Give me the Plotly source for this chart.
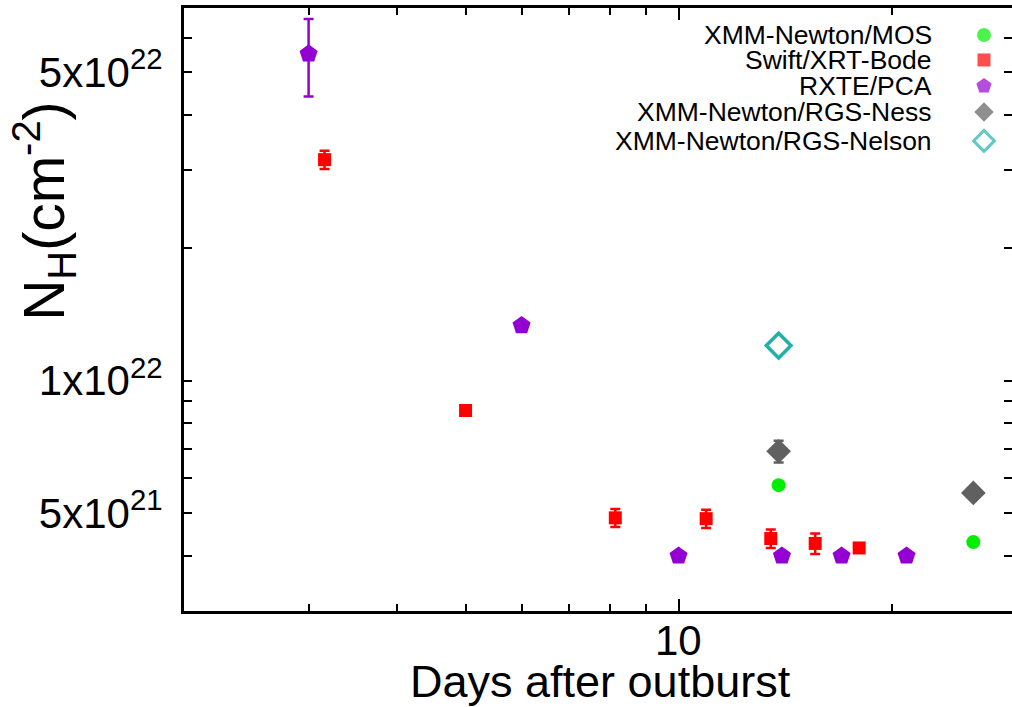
import math
import plotly.graph_objects as go

# ---------------- data ----------------
mos_x = [13.85, 26.1]
mos_y = [5.79e21, 4.30e21]

swift_x = [3.16, 5.0, 8.14, 10.94, 13.5, 15.6, 18.0]
swift_y = [3.17e22, 8.55e21, 4.88e21, 4.86e21, 4.38e21, 4.27e21, 4.17e21]
swift_err = [1.5e21, 1.8e20, 2.3e20, 2.3e20, 2.1e20, 2.3e20, 0.0]

rxte_x = [3.0, 6.0, 10.0, 14.0, 17.0, 21.0]
rxte_y = [5.51e22, 1.333e22, 4.0e21, 4.0e21, 4.0e21, 4.0e21]
rxte_err_plus = [1.1e22, 0, 0, 0, 0, 0]
rxte_err_minus = [1.1e22, 0, 0, 0, 0, 0]

ness_x = [13.85, 26.1]
ness_y = [6.91e21, 5.56e21]
ness_err = [3.9e20, 0.0]

nelson_x = [13.85]
nelson_y = [1.20e22]

legend_labels = ["XMM-Newton/MOS", "Swift/XRT-Bode", "RXTE/PCA",
                 "XMM-Newton/RGS-Ness", "XMM-Newton/RGS-Nelson"]

y_tickvals = [5e21, 1e22, 5e22]
y_ticktext = ["5x10<sup>21</sup>", "1x10<sup>22</sup>", "5x10<sup>22</sup>"]
y_minor = [4e21, 6e21, 7e21, 8e21, 9e21, 2e22, 3e22, 4e22, 6e22]
x_tickvals = [10]
x_ticktext = ["10"]
x_minor = [3, 4, 5, 6, 7, 8, 9, 20]

# ---------------- style ----------------
GREEN = "#00ee00"
RED = "#ff0000"
PURPLE = "#9400d3"
GRAY = "#606060"
TEAL = "#20b2aa"
FONT = "Liberation Sans, Arial, Helvetica, sans-serif"

W, H = 1012, 707
L, R, T, B = 184, 0, 8, 95.5

fig = go.Figure()

fig.add_trace(go.Scatter(
    x=rxte_x, y=rxte_y, mode="markers", name=legend_labels[2],
    marker=dict(symbol="pentagon", size=19, color=PURPLE),
    error_y=dict(type="data", array=rxte_err_plus, arrayminus=rxte_err_minus,
                 color=PURPLE, thickness=2.5, width=5, symmetric=False),
    showlegend=False))
fig.add_trace(go.Scatter(
    x=swift_x, y=swift_y, mode="markers", name=legend_labels[1],
    marker=dict(symbol="square", size=13, color=RED),
    error_y=dict(type="data", array=swift_err, color=RED, thickness=2.5, width=5),
    showlegend=False))
fig.add_trace(go.Scatter(
    x=mos_x, y=mos_y, mode="markers", name=legend_labels[0],
    marker=dict(symbol="circle", size=14, color=GREEN),
    showlegend=False))
fig.add_trace(go.Scatter(
    x=ness_x, y=ness_y, mode="markers", name=legend_labels[3],
    marker=dict(symbol="diamond", size=19, color=GRAY),
    error_y=dict(type="data", array=ness_err, color=GRAY, thickness=2.5, width=5),
    showlegend=False))
fig.add_trace(go.Scatter(
    x=nelson_x, y=nelson_y, mode="markers", name=legend_labels[4],
    marker=dict(symbol="diamond-open", size=19, color=TEAL, line=dict(width=3.5, color=TEAL)),
    showlegend=False))

# ---------- custom legend (text left, symbol right) ----------
pw = W - L - R
ph = H - T - B
row_px = [35, 60, 86, 112, 141]
text_right_px = 934
sym_px = 984
legend_syms = ["circle", "square", "pentagon", "diamond", "diamond-open"]
legend_cols = [GREEN, RED, PURPLE, GRAY, TEAL]
legend_sizes = [14, 13, 16, 15, 16]

def py(ypx):
    return (H - B - ypx) / ph

def px(xpx):
    return (xpx - L) / pw

fig.add_trace(go.Scatter(
    x=[px(sym_px)] * 5, y=[py(v) for v in row_px], xaxis="x2", yaxis="y2",
    mode="markers", showlegend=False, hoverinfo="skip",
    marker=dict(symbol=legend_syms, color=legend_cols, size=legend_sizes,
                line=dict(width=[0, 0, 0, 0, 3], color=legend_cols))))

annotations = []
for lab, rp in zip(legend_labels, row_px):
    annotations.append(dict(
        text=lab, x=px(text_right_px), y=py(rp), xref="paper", yref="paper",
        xanchor="right", yanchor="middle", showarrow=False,
        font=dict(family=FONT, size=26.5, color="black")))

# x tick label, placed under its tick (log axis: annotation x is log10 value)
for tv, tt in zip(x_tickvals, x_ticktext):
    annotations.append(dict(
        text=tt, x=math.log10(tv), y=py(641), xref="x", yref="paper",
        xanchor="center", yanchor="middle", showarrow=False,
        font=dict(family=FONT, size=42, color="black")))

# axis titles
annotations.append(dict(
    text="Days after outburst", x=px(600), y=py(682), xref="paper", yref="paper",
    xanchor="center", yanchor="middle", showarrow=False,
    font=dict(family=FONT, size=45, color="black")))
annotations.append(dict(
    text="N<sub>H</sub>(cm<sup>-2</sup>)", x=px(44), y=py(212), xref="paper", yref="paper",
    xanchor="center", yanchor="middle", showarrow=False, textangle=-90,
    font=dict(family=FONT, size=57, color="black")))

axis_common = dict(type="log", showgrid=False, zeroline=False)

fig.update_layout(
    width=W, height=H,
    margin=dict(l=L, r=R, t=T, b=B, pad=0),
    paper_bgcolor="white", plot_bgcolor="white",
    font=dict(family=FONT, color="black"),
    showlegend=False,
    annotations=annotations,
    xaxis=dict(
        range=[math.log10(2), math.log10(29.6)],
        tickmode="array", tickvals=x_tickvals, showticklabels=False,
        ticks="inside", ticklen=12, tickwidth=1.5, tickcolor="black",
        minor=dict(tickmode="array", tickvals=x_minor, ticks="inside",
                   ticklen=7, tickwidth=1.5, tickcolor="black", showgrid=False),
        showline=True, linecolor="black", linewidth=3, mirror="ticks",
        **axis_common,
    ),
    yaxis=dict(
        range=[math.log10(3e21), math.log10(7e22)],
        tickmode="array", tickvals=y_tickvals, ticktext=y_ticktext,
        ticks="inside", ticklen=8, tickwidth=1.5, tickcolor="black",
        minor=dict(tickmode="array", tickvals=y_minor, ticks="inside",
                   ticklen=8, tickwidth=1.5, tickcolor="black", showgrid=False),
        showline=True, linecolor="black", linewidth=3, mirror=False,
        ticklabelstandoff=10,
        tickfont=dict(family=FONT, size=42, color="black"),
        **axis_common,
    ),
    # right-hand y ticks without a visible spine (spine lies beyond the cropped edge)
    yaxis3=dict(
        overlaying="y", side="right", anchor="x", matches="y",
        range=[math.log10(3e21), math.log10(7e22)],
        tickmode="array", tickvals=y_tickvals, showticklabels=False,
        ticks="inside", ticklen=8, tickwidth=1.5, tickcolor="black",
        minor=dict(tickmode="array", tickvals=y_minor, ticks="inside",
                   ticklen=8, tickwidth=1.5, tickcolor="black", showgrid=False),
        showline=False,
        **axis_common,
    ),
    xaxis2=dict(overlaying="x", range=[0, 1], visible=False, fixedrange=True),
    yaxis2=dict(overlaying="y", range=[0, 1], visible=False, fixedrange=True),
)

# dummy invisible trace to activate yaxis3
fig.add_trace(go.Scatter(x=[rxte_x[0]], y=[rxte_y[0]], yaxis="y3", mode="markers",
                         marker=dict(opacity=0), showlegend=False, hoverinfo="skip"))

fig.write_html("out.html", config={"displayModeBar": False},
               post_script="document.body.style.margin='0px';document.body.style.overflow='hidden';")
